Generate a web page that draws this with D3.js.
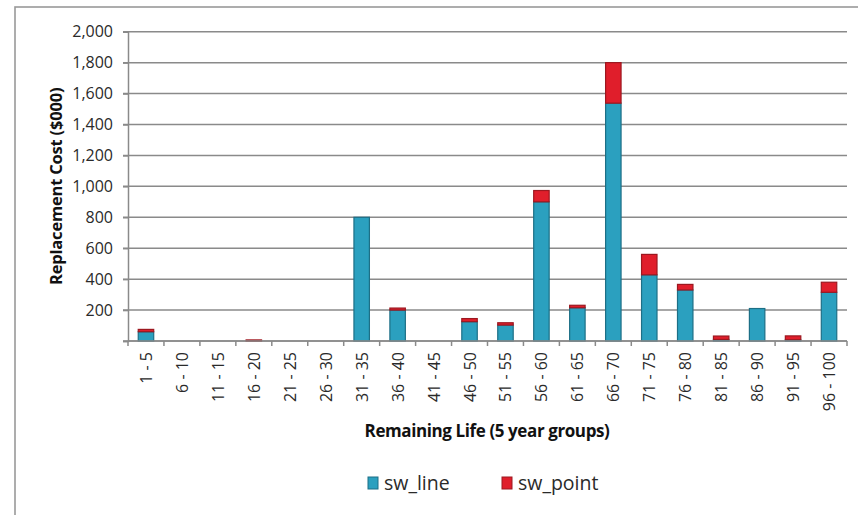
<!DOCTYPE html>
<html><head><meta charset="utf-8">
<script src="https://cdn.jsdelivr.net/npm/d3@7"></script>
<style>
body{margin:0;background:#fff;}
text{font-family:"Open Sans","Liberation Sans",sans-serif;}
</style></head>
<body><svg id="c" width="858" height="515"></svg>
<script>
const categories = ["1 - 5","6 - 10","11 - 15","16 - 20","21 - 25","26 - 30","31 - 35","36 - 40","41 - 45","46 - 50","51 - 55","56 - 60","61 - 65","66 - 70","71 - 75","76 - 80","81 - 85","86 - 90","91 - 95","96 - 100"];
const swLine  = [60, 0, 0, 0, 0, 0, 800, 200, 0, 125, 103, 900, 215, 1538, 428, 330, 10, 210, 8, 315];
const swPoint = [15, 0, 0, 7, 0, 0, 0, 13, 0, 20, 15, 73, 16, 262, 132, 36, 22, 0, 25, 65];
const yTicks = [0,200,400,600,800,1000,1200,1400,1600,1800,2000];
const seriesNames = ["sw_line","sw_point"];
const colors = {sw_line:"#2ba0bf", sw_point:"#e01e2b"};
const strokes = {sw_line:"#1d6f86", sw_point:"#9c1820"};

const svg = d3.select("#c");
const pLeft = 128, pRight = 847, pTop = 31.7, pBottom = 341;

// outer border
svg.append("rect").attr("x",15).attr("y",7).attr("width",900).attr("height",600)
  .attr("fill","none").attr("stroke","#999").attr("stroke-width",1.6);

const x = d3.scaleBand().domain(categories).range([pLeft,pRight]).paddingInner(0.57).paddingOuter(0.285);
const y = d3.scaleLinear().domain([0,2000]).range([pBottom,pTop]);

// gridlines
svg.append("g").selectAll("line").data(yTicks).join("line")
  .attr("x1",pLeft-5).attr("x2",pRight).attr("y1",d=>y(d)).attr("y2",d=>y(d))
  .attr("stroke","#8a8a8a").attr("stroke-width",1.5);

// y axis
const yAxis = d3.axisLeft(y).tickValues(yTicks).tickSize(5).tickPadding(10)
  .tickFormat(d=> d===0 ? "" : d3.format(",")(d));
const gy = svg.append("g").attr("transform",`translate(${pLeft},0)`).call(yAxis);
gy.select(".domain").attr("stroke","#8a8a8a").attr("stroke-width",1.5);
gy.selectAll(".tick line").attr("stroke","#8a8a8a").attr("stroke-width",1.5);
gy.selectAll("text").attr("font-size",16).attr("fill","#2a2a2a").attr("font-family","Open Sans");

// stacked bars
const rows = categories.map((c,i)=>({cat:c, sw_line:swLine[i], sw_point:swPoint[i]}));
const stack = d3.stack().keys(seriesNames)(rows);
svg.append("g").selectAll("g").data(stack).join("g")
  .attr("fill",d=>colors[d.key]).attr("stroke",d=>strokes[d.key]).attr("stroke-width",1.2)
  .selectAll("rect").data(d=>d.filter(v=>v[1]-v[0]>0)).join("rect")
  .attr("x",d=>x(d.data.cat)).attr("width",x.bandwidth())
  .attr("y",d=>y(d[1])).attr("height",d=>y(d[0])-y(d[1]));

// x axis line and boundary ticks
const step = x.step();
const bounds = d3.range(categories.length+1).map(i=>pLeft + i*step);
svg.append("line").attr("x1",pLeft).attr("x2",pRight).attr("y1",pBottom).attr("y2",pBottom)
  .attr("stroke","#8a8a8a").attr("stroke-width",1.5);
svg.append("g").selectAll("line").data(bounds).join("line")
  .attr("x1",d=>d).attr("x2",d=>d).attr("y1",pBottom).attr("y2",pBottom+5)
  .attr("stroke","#8a8a8a").attr("stroke-width",1.5);
svg.append("g").selectAll("text").data(categories).join("text")
  .attr("transform",d=>`translate(${x(d)+x.bandwidth()/2+6},${pBottom+11}) rotate(-90)`)
  .attr("text-anchor","end").attr("font-size",16).attr("fill","#2a2a2a").text(d=>d);

// axis titles
svg.append("text").attr("x",487).attr("y",437).attr("text-anchor","middle")
  .attr("font-size",17).attr("font-weight","bold").attr("fill","#111")
  .attr("letter-spacing","-0.4").text("Remaining Life (5 year groups)");
svg.append("text").attr("transform",`translate(62,${(pTop+pBottom)/2}) rotate(-90)`)
  .attr("text-anchor","middle").attr("font-size",16.5).attr("font-weight","bold").attr("fill","#111")
  .attr("letter-spacing","-0.2").text("Replacement Cost ($000)");

// legend
const legendX = [368, 502];
const lg = svg.append("g").selectAll("g").data(seriesNames).join("g")
  .attr("transform",(d,i)=>`translate(${legendX[i]},477)`);
lg.append("rect").attr("width",10).attr("height",12)
  .attr("fill",d=>colors[d]).attr("stroke",d=>strokes[d]).attr("stroke-width",1);
lg.append("text").attr("x",16).attr("y",13).attr("font-size",19.5).attr("fill","#2a2a2a").text(d=>d);
</script></body></html>
